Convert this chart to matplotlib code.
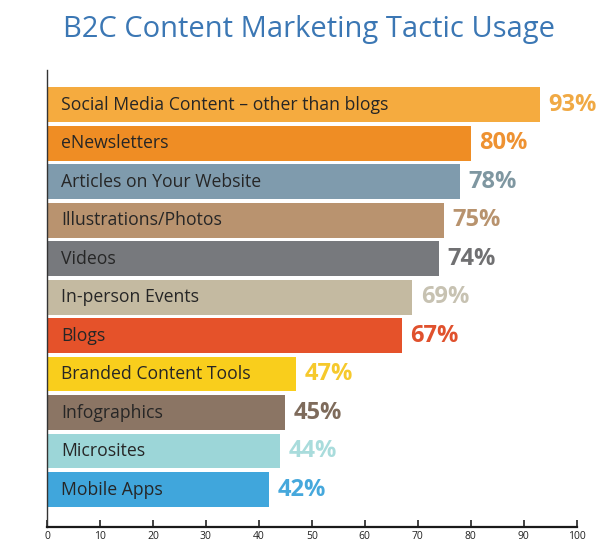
import matplotlib
matplotlib.use("Agg")
import matplotlib.pyplot as plt

# ─────────────────────────────────────────────
# DATA
# ─────────────────────────────────────────────
tactics = [
    "Social Media Content \u2013 other than blogs",
    "eNewsletters",
    "Articles on Your Website",
    "Illustrations/Photos",
    "Videos",
    "In-person Events",
    "Blogs",
    "Branded Content Tools",
    "Infographics",
    "Microsites",
    "Mobile Apps",
]
usage = [93, 80, 78, 75, 74, 69, 67, 47, 45, 44, 42]

bar_colors = ["#F5AB3F", "#EF8D24", "#7F9BAD", "#B9936F", "#77797D", "#C4BAA1",
              "#E5522A", "#F9CE1C", "#8B7564", "#9CD6D8", "#40A6DC"]
label_colors = ["#F0A944", "#EE9232", "#7F97A1", "#B8936E", "#707072", "#C7C2B2",
                "#E0512D", "#F6C92C", "#7E6B5B", "#A9DCDC", "#46A8DC"]
xticks = [0, 10, 20, 30, 40, 50, 60, 70, 80, 90, 100]

plt.rcParams["font.family"] = ["Open Sans", "DejaVu Sans"]

fig = plt.figure(figsize=(6.02, 5.57), dpi=100)
ax = fig.add_axes([0.078, 0.054, 0.880, 0.820])

ypos = list(range(len(tactics)))
ax.barh(ypos, usage, height=0.9, color=bar_colors, zorder=2)

# labels inside bars + value labels
for i, (name, val) in enumerate(zip(tactics, usage)):
    ax.annotate(name, xy=(0, i), xytext=(10, 0), textcoords="offset points",
                ha="left", va="center", fontsize=12.7, color="#262626")
    ax.annotate(f"{val}%", xy=(val, i), xytext=(6, 0), textcoords="offset points",
                ha="left", va="center", fontsize=17, fontweight="bold",
                color=label_colors[i])

ax.set_xlim(0, 100)
ax.set_ylim(10.97, -0.9)
ax.set_xticks(xticks)
ax.set_yticks([])
ax.tick_params(axis="x", direction="in", length=5, width=1.2, labelsize=7.5,
               colors="#222222", pad=3)

for s in ["top", "right"]:
    ax.spines[s].set_visible(False)
ax.spines["bottom"].set_linewidth(1.6)
ax.spines["bottom"].set_color("#1a1a1a")
ax.spines["left"].set_linewidth(1.0)
ax.spines["left"].set_color("#333333")

fig.text(0.513, 0.947, "B2C Content Marketing Tactic Usage", ha="center",
         va="center", fontsize=21, color="#3B77B4")

fig.savefig("out.png", dpi=100)
